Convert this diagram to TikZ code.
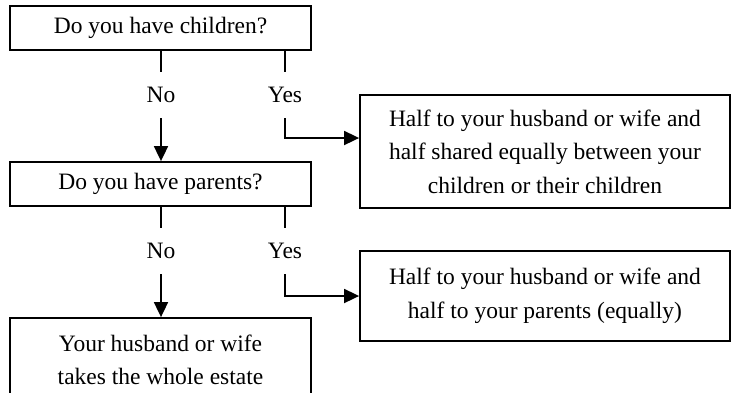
\documentclass[tikz,border=0pt]{standalone}
\usepackage{fontspec}
\setmainfont{Liberation Serif}
\usetikzlibrary{arrows.meta}
\tikzset{
  Kasten/.style={draw,line width=1.8pt,align=center,inner sep=0pt,minimum width=#1}, % Rahmen
  Antwort/.style={inner sep=0pt,minimum height=46pt}, % Ja/Nein
  Linie/.style={line width=1.8pt}, % Leitungen
  Pfeil/.style={Linie,->} % Verbindungen
}
\begin{document}
\begin{tikzpicture}[x=1pt,y=-1pt,
font=\fontsize{23.5}{33.5}\selectfont,
>={Triangle[length=15pt,width=14pt]} % Pfeilspitzen
]
\clip (0,0) rectangle (731,392);

%Fragen
\node[Kasten=301pt,minimum height=44pt] (Kinder) at (160.5,28) {Do you have children?};
\node[Kasten=301pt,minimum height=44pt] (Eltern) at (160.5,184) {Do you have parents?};

%Ergebnisse
\node[Kasten=370pt,minimum height=113pt] (ErbeK) at (545,151.5)
  {Half to your husband or wife and\\half shared equally between your\\children or their children};
\node[Kasten=370pt,minimum height=90pt] (ErbeE) at (545,296)
  {Half to your husband or wife and\\half to your parents (equally)};
\node[Kasten=301pt,minimum height=84pt] (ErbeG) at (160.5,360)
  {Your husband or wife\\takes the whole estate};

%Antworten
\node[Antwort] (NeinK) at (161,95) {No};
\node[Antwort] (JaK) at (285,95) {Yes};
\node[Antwort] (NeinE) at (161,251) {No};
\node[Antwort] (JaE) at (285,251) {Yes};

\coordinate (KnickK) at (285,138);
\coordinate (KnickE) at (285,296);

%Leitungen
\draw[Linie] (NeinK.north |- Kinder.south) -- (NeinK.north);
\draw[Linie] (JaK.north |- Kinder.south) -- (JaK.north);
\draw[Pfeil] (NeinK.south) -- (NeinK.south |- Eltern.north);
\draw[Pfeil] (JaK.south) -- (KnickK) -- (KnickK -| ErbeK.west);

\draw[Linie] (NeinE.north |- Eltern.south) -- (NeinE.north);
\draw[Linie] (JaE.north |- Eltern.south) -- (JaE.north);
\draw[Pfeil] (NeinE.south) -- (NeinE.south |- ErbeG.north);
\draw[Pfeil] (JaE.south) -- (KnickE) -- (KnickE -| ErbeE.west);

\end{tikzpicture}
\end{document}
